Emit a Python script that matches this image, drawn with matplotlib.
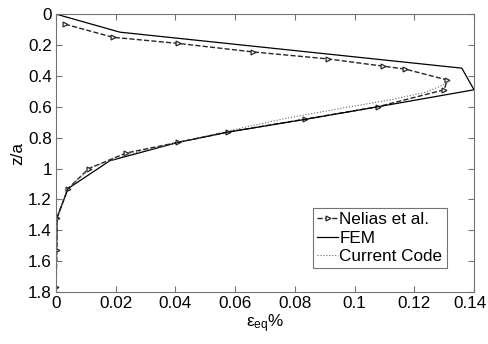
import matplotlib
matplotlib.use("Agg")
import matplotlib.pyplot as plt
import matplotlib.transforms as mtrans

# values
nelias_z = [0.065, 0.15, 0.19, 0.245, 0.29, 0.337, 0.356, 0.427, 0.49, 0.60,
            0.68, 0.764, 0.83, 0.90, 1.0, 1.13, 1.32, 1.53, 1.77]
nelias_eps = [0.003, 0.019, 0.041, 0.066, 0.091, 0.1095, 0.117, 0.131, 0.130, 0.1078,
              0.0834, 0.0576, 0.041, 0.0234, 0.011, 0.004, 0.0003, 0.0003, 0.0]

fem_z = [0.0, 0.117, 0.35, 0.49, 0.60, 0.68, 0.764, 0.83, 0.95, 1.13, 1.32, 1.8]
fem_eps = [0.0, 0.0214, 0.1359, 0.140, 0.1078, 0.084, 0.0576, 0.041, 0.018, 0.004, 0.0003, 0.0]

code_z = [0.43, 0.46, 0.505, 0.555, 0.61, 0.675, 0.755, 0.83, 0.91, 0.99, 1.13, 1.32, 1.8]
code_eps = [0.1315, 0.1295, 0.124, 0.112, 0.0955, 0.077, 0.058, 0.041, 0.024, 0.012, 0.004, 0.0005, 0.0]

xticks = [0, 0.02, 0.04, 0.06, 0.08, 0.1, 0.12, 0.14]
xticklabels = ["0", "0.02", "0.04", "0.06", "0.08", "0.1", "0.12", "0.14"]
yticks = [0, 0.2, 0.4, 0.6, 0.8, 1.0, 1.2, 1.4, 1.6, 1.8]
yticklabels = ["0", "0.2", "0.4", "0.6", "0.8", "1", "1.2", "1.4", "1.6", "1.8"]

plt.rcParams['font.family'] = ['Liberation Sans', 'DejaVu Sans']
plt.rcParams['font.size'] = 12.3
plt.rcParams['mathtext.fontset'] = 'custom'
plt.rcParams['mathtext.rm'] = 'Liberation Sans'
plt.rcParams['mathtext.it'] = 'Liberation Sans'
plt.rcParams['mathtext.default'] = 'regular'

fig = plt.figure(figsize=(4.88, 3.44), dpi=100)
ax = fig.add_axes([0.1148, 0.151, 0.8566, 0.808])

ax.plot(nelias_eps, nelias_z, linestyle='--', color='0.15', linewidth=1.0,
        marker='>', markersize=3.5, markerfacecolor='white', markeredgecolor='0.15',
        markeredgewidth=0.9, label='Nelias et al.')
ax.plot(fem_eps, fem_z, linestyle='-', color='black', linewidth=0.9, label='FEM')
ax.plot(code_eps, code_z, linestyle=':', color='0.4', linewidth=0.8, label='Current Code')

ax.set_xlim(0, 0.14)
ax.set_ylim(1.8, 0)
ax.set_xticks(xticks)
ax.set_xticklabels(xticklabels)
ax.set_yticks(yticks)
ax.set_yticklabels(yticklabels)
ax.tick_params(direction='in', top=True, right=True, length=4, color='0.45', pad=3)
for s in ax.spines.values():
    s.set_color('0.45')
    s.set_linewidth(0.8)

# nudge the last x label left so it stays inside the figure
last = ax.get_xticklabels()[-1]
last.set_transform(last.get_transform() + mtrans.ScaledTranslation(-4 / 100, 0, fig.dpi_scale_trans))

ax.set_xlabel(r'$\varepsilon_{eq}$%', labelpad=1)
ax.set_ylabel('z/a', labelpad=2)

leg = ax.legend(loc='lower right', bbox_to_anchor=(0.935, 0.085), fancybox=False,
                framealpha=1, edgecolor='0.45', handlelength=1.2, handletextpad=0.1,
                borderpad=0.25, labelspacing=0.2, borderaxespad=0)
leg.get_frame().set_linewidth(0.8)

fig.savefig('out.png', dpi=100)
